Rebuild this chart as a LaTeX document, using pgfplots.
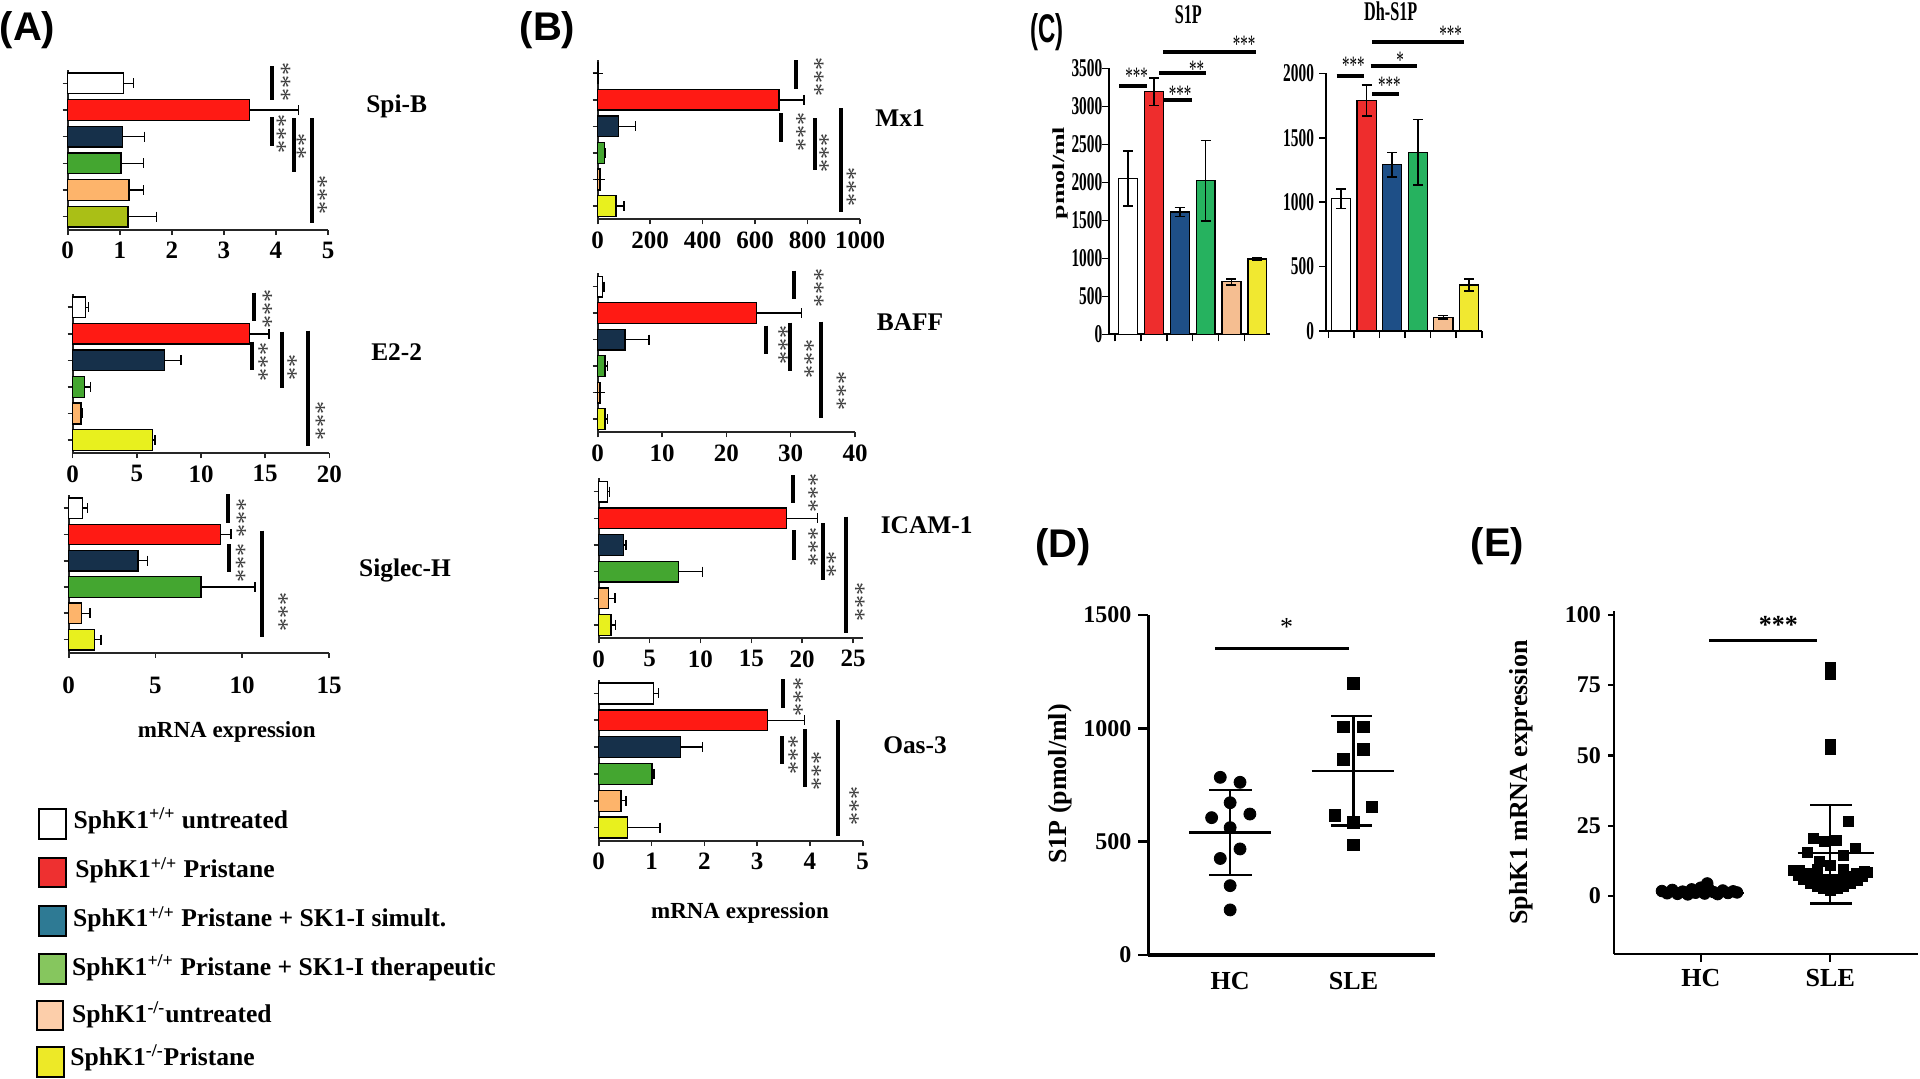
\documentclass[border=0pt]{standalone}
\usepackage{fontspec}
\setmainfont{Liberation Serif}
\newfontfamily\sansf{Liberation Sans}
\newfontfamily\condf[FakeStretch=0.6]{Liberation Serif}
\newfontfamily\condsf[FakeStretch=0.6]{Liberation Sans}
\usepackage{pgfplots}
\pgfplotsset{compat=1.18}

\definecolor{cR}{HTML}{FF1A14}
\definecolor{cN}{HTML}{16304A}
\definecolor{cG}{HTML}{44A630}
\definecolor{cO}{HTML}{FDB46B}
\definecolor{cOl}{HTML}{AABF16}
\definecolor{cY}{HTML}{E8F01E}
\definecolor{cCR}{HTML}{EE2D2D}
\definecolor{cCN}{HTML}{1E4F87}
\definecolor{cCG}{HTML}{26B25F}
\definecolor{cCO}{HTML}{F5BE91}
\definecolor{cCY}{HTML}{F1E830}
\definecolor{lR}{HTML}{EE3030}
\definecolor{lN}{HTML}{2E7A94}
\definecolor{lG}{HTML}{86C65E}
\definecolor{lO}{HTML}{FCCEAA}
\definecolor{lY}{HTML}{EDE927}

\newcommand\tf{\bfseries\fontsize{12.5}{14}\selectfont}
\newcommand\ctf{\condf\bfseries\fontsize{12.8}{15}\selectfont}
\newcommand\dtf{\bfseries\fontsize{12}{14}\selectfont}
\newcommand\lf{\bfseries\fontsize{13}{15}\selectfont}
\newcommand\gf{\bfseries\fontsize{12.7}{15}\selectfont}
\newcommand\lgf{\bfseries\fontsize{12.8}{15}\selectfont}
\newcommand\mf{\bfseries\fontsize{11.5}{14}\selectfont}
\newcommand\starf{\fontsize{13}{13}\selectfont\color{black!75}}
\newcommand\cstarf{\condf\fontsize{12.5}{12}\selectfont}
\newcommand\pl{\sansf\bfseries\fontsize{20}{24}\selectfont}

\pgfplotsset{
 hb/.style={scale only axis, clip=false, anchor=south west,
   axis x line*=bottom, axis y line*=left,
   y dir=reverse, ymin=-0.5, ymax=5.5, ytick={0,1,2,3,4,5}, yticklabels={},
   xmin=0, enlargelimits=false, tick align=outside, major tick length=2.5pt,
   axis line style={line width=0.9pt, black!85},
   every tick/.append style={line width=0.8pt, black!85},
   xticklabel style={font=\tf},
   /pgf/number format/assume math mode=true, /pgf/number format/1000 sep={}},
 cb/.style={scale only axis, clip=false, anchor=south west,
   axis x line*=bottom, axis y line*=left, ymin=0, enlargelimits=false,
   xtick={-0.5,0.5,...,5.5}, xticklabels={}, tick align=outside, major tick length=3.5pt,
   axis line style={line width=0.9pt, black}, every tick/.append style={line width=0.8pt, black},
   yticklabel style={font=\ctf},
   /pgf/number format/assume math mode=true, /pgf/number format/1000 sep={}},
}

\newcommand\hbb[4]{\addplot[xbar, bar width=0.78, bar shift=0pt, fill=#1, draw=black, line width=0.7pt,
  error bars/.cd, x dir=plus, x explicit, error bar style={line width=0.7pt, black},
  error mark options={rotate=90, line width=0.7pt, black, mark size=2.5pt}] coordinates {(#2,#3) +- (#4,0)};}
\newcommand\vbb[5]{\addplot[ybar, bar width=#5, bar shift=0pt, fill=#1, draw=black, line width=0.6pt,
  error bars/.cd, y dir=both, y explicit, error bar style={line width=0.8pt, black},
  error mark options={rotate=90, line width=0.8pt, black, mark size=2.5pt}] coordinates {(#2,#3) +- (0,#4)};}

\begin{document}
\begin{tikzpicture}
\path[use as bounding box] (0,0) rectangle (960pt,-539pt);

% ---------- Panel A ----------
\begin{axis}[hb, at={(33.85pt,-115pt)}, width=130.15pt, height=80pt, xmax=5, xtick={0,1,2,3,4,5}]
\hbb{white}{1.07}{0}{0.19}
\hbb{cR}{3.49}{1}{0.94}
\hbb{cN}{1.05}{2}{0.43}
\hbb{cG}{1.02}{3}{0.44}
\hbb{cO}{1.18}{4}{0.28}
\hbb{cOl}{1.16}{5}{0.55}
\end{axis}
\begin{axis}[hb, at={(36.35pt,-226.65pt)}, width=128.3pt, height=79.65pt, xmax=20, xtick={0,5,10,15,20}]
\hbb{white}{1.01}{0}{0.21}
\hbb{cR}{13.77}{1}{1.53}
\hbb{cN}{7.17}{2}{1.27}
\hbb{cG}{0.91}{3}{0.49}
\hbb{cO}{0.65}{4}{0.10}
\hbb{cY}{6.23}{5}{0.18}
\end{axis}
\begin{axis}[hb, at={(34.35pt,-326.35pt)}, width=130.15pt, height=78.85pt, xmax=15, xtick={0,5,10,15},
  xticklabel style={yshift=-6pt}]
\hbb{white}{0.78}{0}{0.29}
\hbb{cR}{8.74}{1}{0.61}
\hbb{cN}{3.99}{2}{0.54}
\hbb{cG}{7.63}{3}{3.11}
\hbb{cO}{0.75}{4}{0.48}
\hbb{cY}{1.48}{5}{0.38}
\end{axis}

% ---------- Panel B ----------
\begin{axis}[hb, at={(298.85pt,-109.65pt)}, width=131.15pt, height=79.65pt, xmax=1000, xtick={0,200,...,1000}]
\hbb{white}{3}{0}{0}
\hbb{cR}{691}{1}{96}
\hbb{cN}{79}{2}{66}
\hbb{cG}{25}{3}{5}
\hbb{cO}{8}{4}{0}
\hbb{cY}{69}{5}{31}
\end{axis}
\begin{axis}[hb, at={(298.85pt,-216.15pt)}, width=128.65pt, height=79.5pt, xmax=40, xtick={0,10,20,30,40}]
\hbb{white}{0.72}{0}{0.28}
\hbb{cR}{24.7}{1}{7.0}
\hbb{cN}{4.25}{2}{3.73}
\hbb{cG}{1.14}{3}{0.36}
\hbb{cO}{0.36}{4}{0}
\hbb{cY}{1.14}{5}{0.36}
\end{axis}
\begin{axis}[hb, at={(299.35pt,-319.15pt)}, width=132.3pt, height=80pt, xmax=26, xtick={0,5,...,25}]
\hbb{white}{0.85}{0}{0.20}
\hbb{cR}{18.47}{1}{3.03}
\hbb{cN}{2.42}{2}{0.27}
\hbb{cG}{7.83}{3}{2.37}
\hbb{cO}{0.95}{4}{0.65}
\hbb{cY}{1.21}{5}{0.46}
\end{axis}
\begin{axis}[hb, at={(299.35pt,-420.5pt)}, width=132pt, height=80.5pt, xmax=5, xtick={0,1,2,3,4,5}]
\hbb{white}{1.04}{0}{0.09}
\hbb{cR}{3.2}{1}{0.7}
\hbb{cN}{1.55}{2}{0.42}
\hbb{cG}{1.01}{3}{0.04}
\hbb{cO}{0.42}{4}{0.10}
\hbb{cY}{0.54}{5}{0.62}
\end{axis}

% ---------- Panel C ----------
\begin{axis}[cb, at={(554.65pt,-167.15pt)}, width=80.35pt, height=133pt, xmin=-0.72, xmax=5.49, ymax=3500, ytick={0,500,...,3500},
  yticklabel style={xshift=3.5pt}]
\vbb{white}{0}{2050}{360}{0.73}
\vbb{cCR}{1}{3190}{180}{0.73}
\vbb{cCN}{2}{1610}{60}{0.73}
\vbb{cCG}{3}{2020}{530}{0.73}
\vbb{cCO}{4}{690}{40}{0.73}
\vbb{cCY}{5}{990}{12}{0.73}
\end{axis}
\begin{axis}[cb, at={(663pt,-165.5pt)}, width=77.85pt, height=128.85pt, xmin=-0.59, xmax=5.5, ymax=2000, ytick={0,500,...,2000},
  yticklabel style={xshift=1pt}]
\vbb{white}{0}{1027}{75}{0.75}
\vbb{cCR}{1}{1788}{120}{0.75}
\vbb{cCN}{2}{1291}{95}{0.75}
\vbb{cCG}{3}{1387}{255}{0.75}
\vbb{cCO}{4}{106}{15}{0.75}
\vbb{cCY}{5}{357}{45}{0.75}
\end{axis}

% ---------- Panel D ----------
\begin{axis}[scale only axis, clip=false, anchor=south west, at={(574.15pt,-477.5pt)}, width=143.35pt, height=170pt,
  axis x line*=bottom, axis y line*=left, axis line style={line width=1.6pt, black},
  xmin=0.337, xmax=2.66, ymin=0, ymax=1500, ytick={0,500,1000,1500}, xtick=\empty,
  extra x ticks={1,2}, extra x tick labels={HC,SLE},
  extra x tick style={major tick length=0pt, tick label style={font=\lf, yshift=-5pt}},
  tick align=outside, major tick length=5pt, every tick/.append style={line width=1.2pt, black},
  yticklabel style={font=\dtf}, enlargelimits=false,
  /pgf/number format/assume math mode=true, /pgf/number format/1000 sep={}]
\addplot[only marks, mark=*, mark size=3pt, black] coordinates {
 (0.92,784) (1.08,762) (1.0,672) (0.85,606) (1.16,622) (1.0,562) (1.08,468) (0.92,426) (1.0,306) (1.0,199)};
\addplot[only marks, mark=square*, mark size=2.9pt, black] coordinates {
 (2.0,1199) (1.92,1007) (2.08,1007) (2.08,907) (1.92,863) (2.15,654) (1.85,615) (2.0,584) (2.0,485)};
\addplot[black, line width=1.2pt] coordinates {(0.67,540) (1.33,540)};
\addplot[black, line width=1.2pt] coordinates {(1,353) (1,728)};
\addplot[black, line width=1.2pt] coordinates {(0.83,728) (1.18,728)};
\addplot[black, line width=1.2pt] coordinates {(0.83,353) (1.18,353)};
\addplot[black, line width=1.2pt] coordinates {(1.66,813) (2.33,813)};
\addplot[black, line width=1.2pt] coordinates {(2,572) (2,1054)};
\addplot[black, line width=1.2pt] coordinates {(1.82,1054) (2.15,1054)};
\addplot[black, line width=1.2pt] coordinates {(1.82,572) (2.15,572)};
\end{axis}

% ---------- Panel E ----------
\begin{axis}[scale only axis, clip=false, anchor=south west, at={(807pt,-477pt)}, width=152.15pt, height=171.65pt,
  axis x line*=bottom, axis y line*=left, axis line style={line width=1.3pt, black},
  xmin=0.33, xmax=2.68, ymin=-20.6, ymax=101.5, ytick={0,25,50,75,100}, xtick=\empty,
  extra x ticks={1,2}, extra x tick labels={HC,SLE},
  extra x tick style={major tick length=4pt, tick label style={font=\lf}},
  tick align=outside, major tick length=3pt, every tick/.append style={line width=1.1pt, black},
  yticklabel style={font=\dtf}, enlargelimits=false,
  /pgf/number format/assume math mode=true, /pgf/number format/1000 sep={}]
\addplot[only marks, mark=*, mark size=2.9pt, black] coordinates {
 (0.70,1.8) (0.74,1.0) (0.78,2.2) (0.82,0.8) (0.86,1.6) (0.90,0.6) (0.93,2.4) (0.96,1.2) (1.0,3.0)
 (1.03,0.9) (1.06,2.6) (1.05,4.5) (1.10,1.4) (1.13,0.7) (1.17,2.0) (1.21,1.1) (1.25,1.7) (1.28,1.3)};
\addplot[only marks, mark=square*, mark size=2.5pt, black] coordinates {
 (2.0,81.5) (2.0,79) (2.0,54) (2.0,52) (2.142,26.5) (1.866,20.5) (1.954,19.3) (2.046,19.9) (1.82,15.4)
 (2.193,17) (2.098,14.6) (1.918,12.2) (2.0,11)
 (1.717,9.25) (1.755,7.5) (1.794,5.9) (1.845,4.5) (1.897,3.6) (1.948,2.7) (2.0,2.1) (2.052,2.7)
 (2.103,3.6) (2.155,4.5) (2.206,5.7) (2.245,6.9) (2.284,8.3)
 (1.76,9.0) (1.82,8.0) (1.88,7.0) (1.95,6.0) (2.05,6.0) (2.12,7.0) (2.2,8.0) (2.26,8.8) (1.9,9.5) (2.1,9.5)};
\addplot[black, line width=1.2pt] coordinates {(0.665,1.2) (1.335,1.2)};
\addplot[black, line width=1.2pt] coordinates {(1.747,15.4) (2.335,15.4)};
\addplot[black, line width=1.2pt] coordinates {(2,-2.6) (2,32.4)};
\addplot[black, line width=1.2pt] coordinates {(1.845,32.4) (2.168,32.4)};
\addplot[black, line width=1.2pt] coordinates {(1.845,-2.6) (2.168,-2.6)};
\end{axis}

% ---------- annotations in pixel coordinates ----------
\begin{scope}[x=0.5pt,y=-0.5pt]
\tikzset{br/.style={line width=2pt, black}}
\newcommand\vl[3]{\draw[br] (#1,#2)--(#1,#3);}
\newcommand\st[3]{\node[rotate=-90, font=\starf, inner sep=0pt] at (#1-4,#2) {#3};}
\newcommand\hl[3]{\draw[br] (#2,#1)--(#3,#1);}
\newcommand\cs[3]{\node[font=\cstarf, inner sep=0pt] at (#1,#2+4) {#3};}

% panel letters
\node[font=\pl] at (27.5,30) {(A)};
\node[font=\pl] at (547.5,30) {(B)};
\node[font=\condsf\bfseries\fontsize{20}{24}\selectfont] at (1046.7,31.7) {(C)};
\node[font=\pl] at (1063.3,547.5) {(D)};
\node[font=\pl] at (1497.5,546) {(E)};

% gene labels
\node[font=\gf] at (396.7,106.7) {Spi-B};
\node[font=\gf] at (396.7,351.7) {E2-2};
\node[font=\gf] at (405,570.7) {Siglec-H};
\node[font=\gf] at (900,118.3) {Mx1};
\node[font=\gf] at (910,321.7) {BAFF};
\node[font=\gf] at (926.7,525) {ICAM-1};
\node[font=\gf] at (915,745) {Oas-3};
\node[font=\mf] at (226.7,731.7) {mRNA expression};
\node[font=\mf] at (740,913.3) {mRNA expression};

% A brackets
\vl{271.7}{66}{100} \vl{271.7}{117}{146} \vl{294}{118}{172} \vl{312}{118}{223}
\st{286}{82}{***} \st{281.7}{134}{***} \st{301.7}{146}{**} \st{322.7}{195}{***}
\vl{254}{292.7}{320.7} \vl{252.3}{341.7}{370} \vl{281.7}{331.7}{388.3} \vl{307.7}{330.7}{446}
\st{267.7}{309}{***} \st{263.3}{361.7}{***} \st{292.3}{367.5}{**} \st{320.7}{421}{***}
\vl{227.7}{494}{522.7} \vl{228.7}{544}{571.7} \vl{261.7}{530.7}{636.7}
\st{241.7}{518.3}{***} \st{241}{562.5}{***} \st{283.3}{611.7}{***}
% B brackets
\vl{796}{60}{89.3} \vl{780.7}{113.3}{141.7} \vl{815}{118.3}{170} \vl{840.7}{108.3}{211.7}
\st{819}{76.5}{***} \st{801}{131.5}{***} \st{824.3}{153.3}{***} \st{851.7}{186.5}{***}
\vl{794}{270.7}{299.3} \vl{766}{325.7}{354} \vl{790}{322.7}{370.7} \vl{821}{321.7}{418.3}
\st{819}{287.5}{***} \st{783.3}{345}{***} \st{809.3}{359}{***} \st{841.7}{391}{***}
\vl{792.7}{475}{503.3} \vl{794.3}{530}{560} \vl{822.7}{523.3}{580} \vl{845.7}{516.7}{632.7}
\st{813.3}{493.3}{***} \st{813.3}{546.7}{***} \st{831.7}{564}{**} \st{860}{601.7}{***}
\vl{782.7}{679}{708.3} \vl{782.3}{736}{764} \vl{805}{729.3}{786.7} \vl{837.7}{720}{836}
\st{798.3}{696.7}{***} \st{793.3}{755}{***} \st{816.7}{770.8}{***} \st{854.3}{805.8}{***}

% legend
\draw[line width=1pt, fill=white] (39.3,809.3) rectangle (66,839);
\draw[line width=1pt, fill=lR] (39.3,857.7) rectangle (66,887.3);
\draw[line width=1pt, fill=lN] (39.3,906) rectangle (66,935.7);
\draw[line width=1pt, fill=lG] (39.3,954.3) rectangle (66,984);
\draw[line width=1pt, fill=lO] (37.3,1001) rectangle (63.3,1030);
\draw[line width=1pt, fill=lY] (37.3,1047.3) rectangle (64,1076.7);
\node[anchor=base west, font=\lgf, inner sep=0pt] at (73.3,828.3) {SphK1\textsuperscript{+/+} untreated};
\node[anchor=base west, font=\lgf, inner sep=0pt] at (75,877.7) {SphK1\textsuperscript{+/+} Pristane};
\node[anchor=base west, font=\lgf, inner sep=0pt] at (72.7,926.7) {SphK1\textsuperscript{+/+} Pristane + SK1-I simult.};
\node[anchor=base west, font=\lgf, inner sep=0pt] at (71.7,975) {SphK1\textsuperscript{+/+} Pristane + SK1-I therapeutic};
\node[anchor=base west, font=\lgf, inner sep=0pt] at (71.7,1022.3) {SphK1\textsuperscript{-/-}untreated};
\node[anchor=base west, font=\lgf, inner sep=0pt] at (70,1065) {SphK1\textsuperscript{-/-}Pristane};

% C
\node[font=\condf\bfseries\fontsize{13.5}{15}\selectfont] at (1188.3,15) {S1P};
\node[font=\condf\bfseries\fontsize{13.5}{15}\selectfont] at (1390.7,11.7) {Dh-S1P};
\node[inner sep=0pt] at (1060,173) {\scalebox{0.65}[1]{\rotatebox{90}{\bfseries\fontsize{13}{15}\selectfont pmol/ml}}};
\hl{86}{1119.3}{1146.7} \cs{1136.7}{72.7}{***}
\hl{100}{1164}{1191.7} \cs{1180}{90.7}{***}
\hl{73.3}{1159.3}{1206} \cs{1196.7}{65}{**}
\hl{51.7}{1163.3}{1256} \cs{1244}{40}{***}
\hl{76}{1336.7}{1364.3} \cs{1353.3}{61.7}{***}
\hl{94}{1372.3}{1399} \cs{1389.3}{81.7}{***}
\hl{66}{1370.7}{1416.7} \cs{1400}{56.7}{*}
\hl{41.7}{1372.3}{1464.3} \cs{1450.7}{30}{***}

% D / E
\node[font=\lf, rotate=90] at (1060.7,784) {S1P (pmol/ml)};
\node[font=\lf, rotate=90] at (1521.7,782.5) {SphK1 mRNA expression};
\draw[line width=1.6pt] (1215,648.3)--(1349.3,648.3);
\node[font=\fontsize{13}{13}\selectfont, inner sep=0pt] at (1286.7,627) {*};
\draw[line width=1.6pt] (1709.3,640.7)--(1816.7,640.7);
\node[font=\bfseries\fontsize{13}{13}\selectfont, inner sep=0pt] at (1778.3,625) {***};
\end{scope}
\end{tikzpicture}
\end{document}
